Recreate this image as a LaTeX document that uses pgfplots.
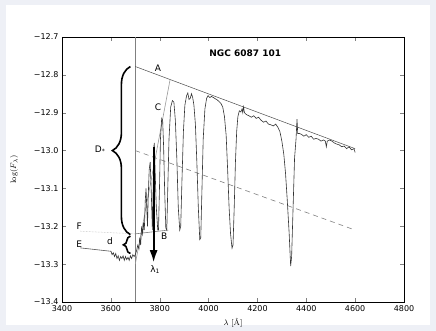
\documentclass[border=0pt]{standalone}
\usepackage{pgfplots}
\pgfplotsset{compat=1.18}
\usepackage{fontspec}
\newfontfamily\dejavu{DejaVu Sans}
\usetikzlibrary{decorations.pathreplacing,arrows.meta}
\definecolor{bgframe}{HTML}{EEF0F6}
\definecolor{spec}{HTML}{333333}
\begin{document}
\begin{tikzpicture}
\fill[bgframe] (-62pt,-29pt) rectangle (374pt,302pt);
\fill[white] (-56pt,-23pt) rectangle (368pt,297pt);
\begin{axis}[
  scale only axis, width=342pt, height=265pt,
  xmin=3400, xmax=4800, ymin=-13.4, ymax=-12.7,
  xtick={3400,3600,3800,4000,4200,4400,4600,4800},
  xticklabels={3400,3600,3800,4000,4200,4400,4600,4800},
  ytick={-13.4,-13.3,-13.2,-13.1,-13.0,-12.9,-12.8,-12.7},
  yticklabels={−13.4,−13.3,−13.2,−13.1,−13.0,−12.9,−12.8,−12.7},
  tick label style={font=\dejavu\fontsize{8}{9}\selectfont, text=black},
  tick align=inside, tickwidth=4pt, minor tick num=0,
  axis line style={black, line width=0.8pt},
  xlabel={$\lambda$ [\AA]}, ylabel={$\log(F_\lambda)$},
  label style={font=\fontsize{8}{9}\selectfont},
  xlabel style={at={(axis description cs:0.5,-0.079)}, anchor=center},
  ylabel style={at={(axis description cs:-0.14,0.5)}, anchor=center, rotate=0},
  clip=false,
]
% vertical line at Balmer jump
\addplot[gray, line width=0.6pt] coordinates {(3700,-12.7) (3700,-13.4)};
% line A
\addplot[gray!60!black, line width=0.5pt] coordinates {(3700,-12.778) (4600,-12.995)};
% dashed line
\addplot[gray, line width=0.6pt, dash pattern=on 5pt off 4pt] coordinates {(3700,-13.0) (4600,-13.21)};
% line C
\addplot[gray!80, line width=0.6pt] coordinates {(3700,-13.30) (3842,-12.814)};
% line F (dotted)
\addplot[gray!60, line width=0.5pt, densely dotted] coordinates {(3474,-13.213) (3700,-13.22)};
% line B
\addplot[gray, line width=0.6pt] coordinates {(3700,-13.22) (3835,-13.21)};
% line E
\addplot[gray!70!black, line width=0.6pt] coordinates {(3474,-13.257) (3600,-13.266)};
% spectrum
\addplot[spec, line width=0.6pt] coordinates {
(3600,-13.265) (3605,-13.275) (3610,-13.270) (3615,-13.280) (3620,-13.272)
(3625,-13.285) (3630,-13.278) (3635,-13.290) (3640,-13.280) (3645,-13.285)
(3650,-13.278) (3655,-13.290) (3660,-13.280) (3665,-13.288) (3670,-13.282)
(3675,-13.290) (3680,-13.278) (3685,-13.285) (3690,-13.275) (3695,-13.280)
(3700,-13.275) (3705,-13.265) (3710,-13.250) (3715,-13.260) (3718,-13.230)
(3722,-13.250) (3726,-13.200) (3730,-13.220) (3734,-13.190) (3737,-13.210)
(3741,-13.130) (3744,-13.100) (3747,-13.150) (3750,-13.200) (3753,-13.120)
(3757,-13.050) (3761,-13.030) (3765,-13.100) (3770,-13.210) (3773,-13.100)
(3776,-12.990) (3778,-12.980) (3781,-13.050) (3786,-13.150) (3792,-13.210)
(3795,-13.210) (3799,-13.100) (3803,-12.970) (3808,-12.915) (3812,-12.920)
(3816,-12.990) (3820,-13.100) (3825,-13.205) (3829,-13.210) (3833,-13.100)
(3838,-12.970) (3845,-12.885) (3852,-12.868) (3858,-12.872) (3864,-12.920)
(3870,-13.020) (3876,-13.150) (3882,-13.210) (3886,-13.200) (3891,-13.080)
(3897,-12.950) (3903,-12.880) (3910,-12.855) (3915,-12.848) (3920,-12.865)
(3925,-12.862) (3930,-12.850) (3935,-12.860) (3940,-12.880) (3946,-12.930)
(3952,-13.030) (3958,-13.150) (3964,-13.235) (3968,-13.230) (3973,-13.100)
(3978,-12.970) (3985,-12.890) (3992,-12.862) (3998,-12.855) (4005,-12.860)
(4012,-12.857) (4020,-12.860) (4027,-12.863) (4035,-12.866) (4042,-12.870)
(4050,-12.875) (4058,-12.885) (4065,-12.910) (4072,-12.960) (4078,-13.050)
(4084,-13.150) (4090,-13.220) (4096,-13.258) (4100,-13.250) (4105,-13.150)
(4110,-13.030) (4115,-12.950) (4120,-12.910) (4126,-12.895) (4132,-12.898)
(4137,-12.890) (4140,-12.900) (4143,-12.885) (4147,-12.900) (4155,-12.905)
(4165,-12.908) (4175,-12.912) (4185,-12.908) (4195,-12.915) (4205,-12.912)
(4215,-12.920) (4225,-12.925) (4235,-12.922) (4245,-12.930) (4255,-12.932)
(4265,-12.935) (4275,-12.930) (4285,-12.940) (4292,-12.950) (4300,-12.975)
(4308,-13.010) (4315,-13.060) (4322,-13.130) (4330,-13.220) (4336,-13.305)
(4340,-13.280) (4346,-13.150) (4352,-13.020) (4358,-12.970) (4362,-12.917)
(4365,-12.955) (4372,-12.955) (4380,-12.957) (4390,-12.962) (4400,-12.958)
(4410,-12.965) (4420,-12.962) (4430,-12.970) (4440,-12.968) (4450,-12.970)
(4460,-12.975) (4470,-12.972) (4478,-12.975) (4482,-12.990) (4486,-12.975)
(4495,-12.972) (4505,-12.975) (4515,-12.980) (4525,-12.983) (4535,-12.985)
(4545,-12.990) (4555,-12.988) (4565,-12.995) (4575,-12.990) (4585,-12.998)
(4595,-12.995) (4600,-13.005)
};
% arrow lambda_1
\addplot[black, line width=1.8pt, -{Latex[length=12pt,width=8pt]}] coordinates {(3775,-12.99) (3775,-13.295)};
% braces
\draw[black, line width=1.6pt, decorate, decoration={brace, amplitude=18pt}]
  (axis cs:3680,-13.222) -- (axis cs:3680,-12.778);
\draw[black, line width=1.6pt, decorate, decoration={brace, amplitude=7pt}]
  (axis cs:3680,-13.272) -- (axis cs:3680,-13.226);
% labels
\node[font=\dejavu\fontsize{9}{10}\selectfont] at (axis cs:3793,-12.782) {A};
\node[font=\dejavu\fontsize{9}{10}\selectfont] at (axis cs:3793,-12.885) {C};
\node[font=\dejavu\fontsize{9}{10}\selectfont] at (axis cs:3818,-13.226) {B};
\node[font=\dejavu\fontsize{9}{10}\selectfont] at (axis cs:3470,-13.199) {F};
\node[font=\dejavu\fontsize{9}{10}\selectfont] at (axis cs:3470,-13.247) {E};
\node[font=\dejavu\fontsize{9}{10}\selectfont] at (axis cs:3596,-13.239) {d};
\node[font=\dejavu\fontsize{9}{10}\selectfont] at (axis cs:3556,-12.998) {D\textsubscript{*}};
\node[font=\dejavu\fontsize{9}{10}\selectfont] at (axis cs:3781,-13.315) {λ\textsubscript{1}};
\node[font=\dejavu\bfseries\fontsize{9}{10}\selectfont] at (axis cs:4150,-12.742) {NGC 6087 101};
\end{axis}
\pgfresetboundingbox
\path (-62pt,-29pt) rectangle (374pt,302pt);
\end{tikzpicture}
\end{document}
